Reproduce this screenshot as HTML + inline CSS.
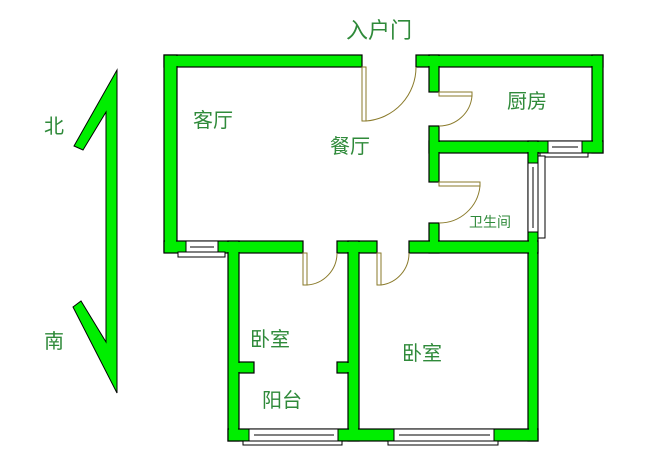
<!DOCTYPE html>
<html><head><meta charset="utf-8"><style>
html,body{margin:0;padding:0;background:#fff;}
svg{display:block}
text{font-family:"Liberation Sans","Noto Sans CJK SC","WenQuanYi Zen Hei",sans-serif;fill:#2f8a3a;}
</style></head><body>
<svg width="665" height="471" viewBox="0 0 665 471" xmlns="http://www.w3.org/2000/svg">
<rect width="665" height="471" fill="#fff"/>
<g fill="#00ee00" stroke="#000" stroke-width="1.2">
<rect x="164" y="55" width="198" height="12"/>
<rect x="416" y="55" width="187" height="12"/>
<rect x="164" y="55" width="13" height="197"/>
<rect x="592" y="55" width="11" height="98"/>
<rect x="429" y="141" width="174" height="12"/>
<rect x="429" y="55" width="10" height="37"/>
<rect x="429" y="126" width="10" height="56"/>
<rect x="429" y="223" width="10" height="30"/>
<rect x="528" y="141" width="10" height="300"/>
<rect x="164" y="241" width="139" height="12"/>
<rect x="337" y="241" width="40" height="12"/>
<rect x="409" y="241" width="129" height="12"/>
<rect x="228" y="241" width="11" height="200"/>
<rect x="348" y="241" width="11" height="200"/>
<rect x="228" y="429" width="310" height="12"/>
<rect x="239" y="362" width="15" height="11"/>
<rect x="337" y="362" width="11" height="11"/>
</g>
<g fill="#00ee00">
<rect x="165" y="56" width="196" height="10"/>
<rect x="417" y="56" width="185" height="10"/>
<rect x="165" y="56" width="11" height="195"/>
<rect x="593" y="56" width="9" height="96"/>
<rect x="430" y="142" width="172" height="10"/>
<rect x="430" y="56" width="8" height="35"/>
<rect x="430" y="127" width="8" height="54"/>
<rect x="430" y="224" width="8" height="28"/>
<rect x="529" y="142" width="8" height="298"/>
<rect x="165" y="242" width="137" height="10"/>
<rect x="338" y="242" width="38" height="10"/>
<rect x="410" y="242" width="127" height="10"/>
<rect x="229" y="242" width="9" height="198"/>
<rect x="349" y="242" width="9" height="198"/>
<rect x="229" y="430" width="308" height="10"/>
<rect x="238" y="363" width="15" height="9"/>
<rect x="338" y="363" width="11" height="9"/>
</g>
<!-- windows -->
<g fill="#fff" stroke="#000" stroke-width="1">
<rect x="186" y="241" width="32" height="12"/><line x1="190" y1="247" x2="214" y2="247"/>
<rect x="178" y="252" width="47" height="5"/>
<rect x="249" y="429" width="89" height="12"/><line x1="254" y1="435" x2="334" y2="435"/>
<rect x="243" y="441" width="99" height="4"/>
<rect x="394" y="429" width="100" height="12"/><line x1="399" y1="435" x2="490" y2="435"/>
<rect x="388" y="441" width="110" height="4"/>
<rect x="548" y="141" width="34" height="12"/><line x1="552" y1="147" x2="578" y2="147"/>
<rect x="540" y="153" width="48" height="4"/>
<rect x="528" y="163" width="10" height="69"/><line x1="533" y1="167" x2="533" y2="228"/>
<rect x="538" y="156" width="7" height="82"/>
</g>
<!-- doors -->
<g fill="none" stroke="#8a7a2a" stroke-width="1">
<rect x="362" y="67" width="4" height="54"/>
<path d="M366 121 A54 54 0 0 0 416 67"/>
<rect x="439" y="92" width="33" height="4"/>
<path d="M472 96 A33 33 0 0 1 439 126"/>
<rect x="439" y="182" width="41" height="4"/>
<path d="M480 186 A41 41 0 0 1 439 223"/>
<rect x="303" y="253" width="4" height="32"/>
<path d="M307 285 A32 32 0 0 0 337 253"/>
<rect x="377" y="253" width="4" height="32"/>
<path d="M381 285 A32 32 0 0 0 409 253"/>
</g>
<!-- compass -->
<polygon points="117,70 117,393 73,307 81,301 106,342 106,112 83,150 74,146" fill="#00ee00" stroke="#000" stroke-width="1"/>
<g font-size="20">
<text x="44" y="133">北</text>
<text x="44" y="348">南</text>
<text x="346" y="38" font-size="22">入户门</text>
<text x="193" y="127">客厅</text>
<text x="330" y="153">餐厅</text>
<text x="507" y="108">厨房</text>
<text x="469" y="227" font-size="14">卫生间</text>
<text x="250" y="346">卧室</text>
<text x="262" y="407">阳台</text>
<text x="402" y="360">卧室</text>
</g>
</svg>
</body></html>
